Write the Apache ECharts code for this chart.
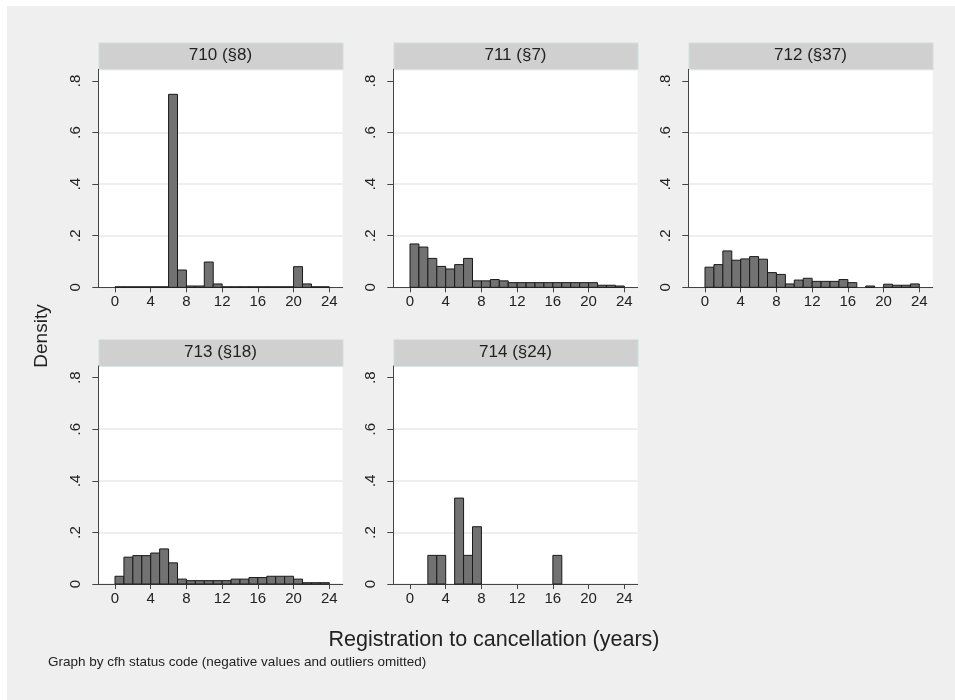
<!DOCTYPE html>
<html><head><meta charset="utf-8">
<script src="https://cdn.jsdelivr.net/npm/echarts@6/dist/echarts.min.js"></script>
<style>html,body{margin:0;padding:0;background:#fff}#c{width:955px;height:700px}</style>
</head><body><div id="c"></div>
<script>
// ---- data ----
const panelLabels = ['710 (§8)', '711 (§7)', '712 (§37)', '713 (§18)', '714 (§24)'];
const binStarts = [0,1,2,3,4,5,6,7,8,9,10,11,12,13,14,15,16,17,18,19,20,21,22,23];
const binWidth = 1;
const xTicks = [0, 4, 8, 12, 16, 20, 24];
const yTicks = [0, 0.2, 0.4, 0.6, 0.8];
const d710 = [0.002,0.002,0.002,0.002,0.002,0.002,0.748,0.067,0.005,0.005,0.098,0.013,0.002,0.002,0.002,0.002,0.002,0.002,0.002,0.002,0.080,0.013,0.002,0.002];
const d711 = [0.168,0.156,0.112,0.081,0.071,0.088,0.112,0.025,0.025,0.030,0.025,0.018,0.018,0.018,0.018,0.018,0.018,0.018,0.018,0.018,0.018,0.008,0.008,0.005];
const d712 = [0.078,0.088,0.141,0.105,0.110,0.119,0.109,0.057,0.050,0.013,0.028,0.035,0.023,0.023,0.023,0.030,0.018,0,0.005,0,0.012,0.008,0.008,0.013];
const d713 = [0.030,0.104,0.110,0.110,0.120,0.136,0.082,0.019,0.013,0.013,0.013,0.013,0.013,0.019,0.019,0.025,0.025,0.030,0.030,0.030,0.019,0.005,0.005,0.005];
const d714 = [0,0,0.111,0.111,0,0.333,0.111,0.222,0,0,0,0,0,0,0,0,0.111,0,0,0,0,0,0,0];
const panelData = [d710, d711, d712, d713, d714];
const yTitle = 'Density';
const xTitle = 'Registration to cancellation (years)';
const note = 'Graph by cfh status code (negative values and outliers omitted)';

// ---- layout ----
const FONT = 'Liberation Sans, Arial, sans-serif';
const colLeft = [98.3, 393.3, 688.3];
const rowTop = [69.3, 366];
const gw = 244.4, gh = 218;
const headerH = 27;

const grids = [], xAxes = [], yAxes = [], series = [], graphics = [];
graphics.push({type:'rect', left:7, top:6, shape:{width:948, height:694}, style:{fill:'#efefef'}, z:-10});

panelLabels.forEach((lab, i) => {
  const col = i % 3, row = Math.floor(i / 3);
  const L = colLeft[col], T = rowTop[row];
  grids.push({left: L, top: T, width: gw, height: gh, backgroundColor:'#fff', show:true, borderWidth:0});
  xAxes.push({
    type:'value', gridIndex:i, min:-1.87, max:25.5,
    axisLine:{show:true, onZero:false, lineStyle:{color:'#444', width:1}},
    axisTick:{show:true, customValues:xTicks, length:5, lineStyle:{color:'#444'}},
    axisLabel:{customValues:xTicks, margin:7, fontSize:15, color:'#222', fontFamily:FONT},
    splitLine:{show:false}
  });
  yAxes.push({
    type:'value', gridIndex:i, min:0, max:0.845, interval:0.2,
    axisLine:{show:true, onZero:false, lineStyle:{color:'#444', width:1}},
    axisTick:{show:true, customValues:yTicks, length:6, lineStyle:{color:'#444'}},
    axisLabel:{customValues:yTicks, rotate:90, margin:15, fontSize:15, color:'#222', fontFamily:FONT,
      formatter: v => v === 0 ? '0' : ('.' + Math.round(v * 10))},
    splitLine:{show:true, showMaxLine:false, lineStyle:{color:'#e8e8e8', width:1.5}}
  });
  series.push({
    type:'custom', xAxisIndex:i, yAxisIndex:i,
    data: binStarts.map((b, k) => [b, panelData[i][k]]),
    renderItem: (params, api) => {
      const x0 = api.value(0), v = api.value(1);
      if (!v) return null;
      const p0 = api.coord([x0, v]);
      const p1 = api.coord([x0 + binWidth, 0]);
      return {type:'rect', shape:{x:p0[0], y:p0[1], width:p1[0]-p0[0], height:p1[1]-p0[1]},
        style:{fill:'#727272', stroke:'#1a1a1a', lineWidth:1}};
    }
  });
  graphics.push({type:'rect', left:L, top:T-headerH, shape:{width:gw, height:headerH},
    style:{fill:'#d0d0d0', stroke:'#dbe5e6', lineWidth:1}});
  graphics.push({type:'text', x:L+gw/2, y:T-headerH/2, style:{text:lab, fontSize:17, fontFamily:FONT, fill:'#222', align:'center', verticalAlign:'middle'}});
});

graphics.push({type:'text', x:42, y:336, rotation:Math.PI/2, style:{text:yTitle, fontSize:19, fontFamily:FONT, fill:'#222', align:'center', verticalAlign:'middle'}});
graphics.push({type:'text', x:494, y:640, style:{text:xTitle, fontSize:21.5, fontFamily:FONT, fill:'#222', align:'center', verticalAlign:'middle'}});
graphics.push({type:'text', x:48, y:662, style:{text:note, fontSize:13.5, fontFamily:FONT, fill:'#222', align:'left', verticalAlign:'middle'}});

const chart = echarts.init(document.getElementById('c'), null, {renderer:'canvas'});
chart.setOption({
  backgroundColor:'#ffffff',
  animation:false,
  grid:grids, xAxis:xAxes, yAxis:yAxes, series:series, graphic:graphics
});
</script></body></html>
